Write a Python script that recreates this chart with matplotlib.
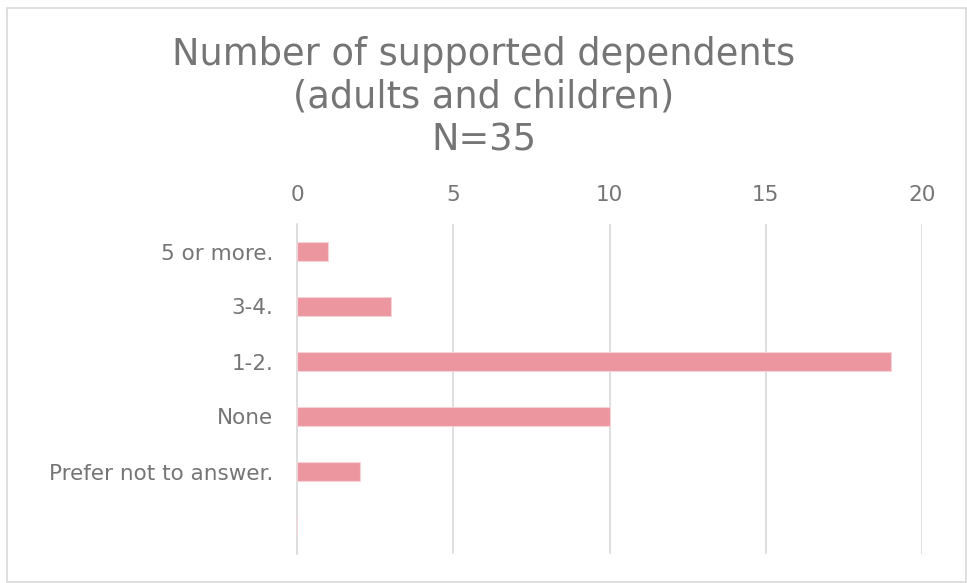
import matplotlib
matplotlib.use("Agg")
import matplotlib.pyplot as plt
from matplotlib.patches import Rectangle

categories = ["5 or more.", "3-4.", "1-2.", "None", "Prefer not to answer.", ""]
counts = [1, 3, 19, 10, 2, 0]
xticks = [0, 5, 10, 15, 20]
title = "Number of supported dependents\n(adults and children)\nN=35"

TEXT = "#757575"
GRID = "#d9d9d9"
BAR = "#ec979f"

plt.rcParams["font.family"] = ["DejaVu Sans"]

W, H = 967, 583
fig = plt.figure(figsize=(W / 100, H / 100), dpi=100)

# outer chart frame
fig.patches.append(Rectangle((7 / W, 1.5 / H), (W - 8.5) / W, (H - 9) / H,
                             transform=fig.transFigure, fill=False,
                             edgecolor="#d9d9d9", linewidth=1.2))

ax = fig.add_axes([297 / W, 1 - 554 / H, (922 - 297) / W, (554 - 224) / H])
y = list(range(len(categories)))
ax.barh(y, counts, height=0.36, color=BAR, edgecolor="#f6d3d6", linewidth=0.8, zorder=3)
ax.set_ylim(len(categories) - 0.5, -0.5)
ax.set_xlim(0, 20)
ax.set_xticks(xticks)
ax.set_yticks(y)
ax.set_yticklabels(categories)
ax.xaxis.tick_top()
ax.tick_params(axis="both", length=0, colors=TEXT, labelsize=15.5)
ax.tick_params(axis="x", pad=14)
ax.tick_params(axis="y", pad=17)
ax.grid(axis="x", color=GRID, linewidth=1.2, zorder=0)
for s in ["top", "right", "bottom"]:
    ax.spines[s].set_visible(False)
ax.spines["left"].set_color(GRID)
ax.spines["left"].set_linewidth(1.2)

fig.text(0.5, 1 - 97 / H, title, ha="center", va="center", fontsize=26.5,
         color=TEXT, linespacing=1.2)

fig.savefig("out.png", dpi=100)
